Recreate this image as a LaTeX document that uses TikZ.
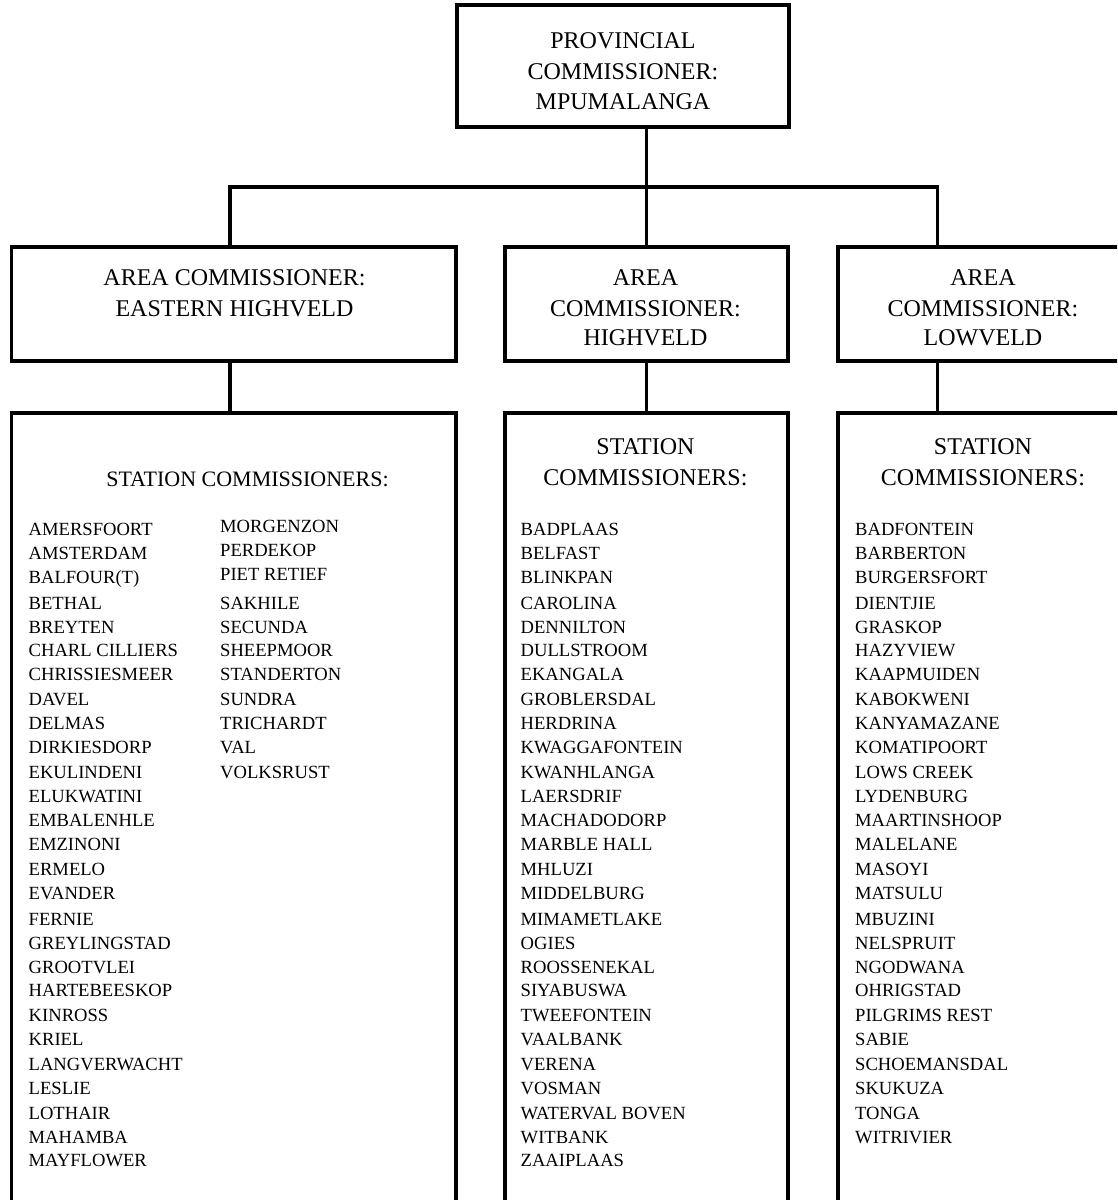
\documentclass[tikz,border=0pt]{standalone}
\usepackage{fontspec}
\setmainfont{Liberation Serif}
\begin{document}
\begin{tikzpicture}[x=1pt,y=-1pt,
  box/.style={draw=black, line width=3.5pt, rectangle, inner sep=0pt, fill=none},
  conn/.style={draw=black, line width=3.5pt, line join=miter},
  head/.style={anchor=base, inner sep=0pt, font=\fontsize{24}{30}\selectfont},
  item/.style={anchor=base west, inner sep=0pt, font=\fontsize{18.6}{24}\selectfont}]
\useasboundingbox (0,0) rectangle (1117,1200);
\clip (0,0) rectangle (1117,1200);
\fill[white] (0,0) rectangle (1117,1200);

% boxes
\node[box, minimum width=332pt, minimum height=122pt] (pc) at (623,66) {};
\node[box, minimum width=444.5pt, minimum height=114pt] (eha) at (233.75,304) {};
\node[box, minimum width=283pt, minimum height=114pt] (hva) at (646.5,304) {};
\node[box, minimum width=290pt, minimum height=114pt] (lva) at (983,304) {};
\node[box, minimum width=444.5pt, minimum height=827pt] (ehs) at (233.75,826.5) {};
\node[box, minimum width=283pt, minimum height=827pt] (hvs) at (646.5,826.5) {};
\node[box, minimum width=290pt, minimum height=827pt] (lvs) at (983,826.5) {};

% connectors
\coordinate (bus) at (646,187);
\draw[conn] (pc.south -| hva.north) -- (hva.north);
\draw[conn] ([xshift=-3.75pt]eha.north) |- (bus) -| ([xshift=-45.5pt]lva.north);
\draw[conn] ([xshift=-3.75pt]eha.south) -- ([xshift=-3.75pt]ehs.north);
\draw[conn] (hva.south) -- (hvs.north);
\draw[conn] ([xshift=-45.5pt]lva.south) -- ([xshift=-45.5pt]lvs.north);

% top box text
\node[head] (pc1) at (623,48.5) {PROVINCIAL};
\node[head] (pc2) at (623,79) {COMMISSIONER:};
\node[head] (pc3) at (623,109.5) {MPUMALANGA};

% area texts
\node[head] (eha1) at (234.5,285.5) {AREA COMMISSIONER:};
\node[head] (eha2) at (234.5,316) {EASTERN HIGHVELD};
\node[head] (hva1) at (645.5,285.5) {AREA};
\node[head] (hva2) at (645.5,316) {COMMISSIONER:};
\node[head] (hva3) at (645.5,345.5) {HIGHVELD};
\node[head] (lva1) at (983,285.5) {AREA};
\node[head] (lva2) at (983,316) {COMMISSIONER:};
\node[head] (lva3) at (983,345.5) {LOWVELD};

% station headings
\node[head, font=\fontsize{22}{30}\selectfont] (ehs1) at (247.5,486) {STATION COMMISSIONERS:};
\node[head] (hvs1) at (645.5,454) {STATION};
\node[head] (hvs2) at (645.5,485) {COMMISSIONERS:};
\node[head] (lvs1) at (983,454) {STATION};
\node[head] (lvs2) at (983,485) {COMMISSIONERS:};

% lists
\def\tops{{523,547,571,597,621,644,668,693,717,741,766,790,814,838,863,887,913,937,961,984,1009,1033,1058,1082,1107,1131,1154}}
\foreach \t [count=\i from 0] in {AMERSFOORT,AMSTERDAM,BALFOUR(T),BETHAL,BREYTEN,CHARL CILLIERS,CHRISSIESMEER,DAVEL,DELMAS,DIRKIESDORP,EKULINDENI,ELUKWATINI,EMBALENHLE,EMZINONI,ERMELO,EVANDER,FERNIE,GREYLINGSTAD,GROOTVLEI,HARTEBEESKOP,KINROSS,KRIEL,LANGVERWACHT,LESLIE,LOTHAIR,MAHAMBA,MAYFLOWER}{
  \pgfmathsetmacro\yy{\tops[\i]+12}
  \node[item] (ehl\i) at (28.5,\yy) {\t};
}
\foreach \t [count=\i from 0] in {MORGENZON,PERDEKOP,PIET RETIEF,SAKHILE,SECUNDA,SHEEPMOOR,STANDERTON,SUNDRA,TRICHARDT,VAL,VOLKSRUST}{
  \pgfmathsetmacro\yy{\tops[\i]+12-(\i<3?2.5:0)}
  \node[item] (ehr\i) at (220,\yy) {\t};
}
\foreach \t [count=\i from 0] in {BADPLAAS,BELFAST,BLINKPAN,CAROLINA,DENNILTON,DULLSTROOM,EKANGALA,GROBLERSDAL,HERDRINA,KWAGGAFONTEIN,KWANHLANGA,LAERSDRIF,MACHADODORP,MARBLE HALL,MHLUZI,MIDDELBURG,MIMAMETLAKE,OGIES,ROOSSENEKAL,SIYABUSWA,TWEEFONTEIN,VAALBANK,VERENA,VOSMAN,WATERVAL BOVEN,WITBANK,ZAAIPLAAS}{
  \pgfmathsetmacro\yy{\tops[\i]+12}
  \node[item] (hvl\i) at (520.5,\yy) {\t};
}
\foreach \t [count=\i from 0] in {BADFONTEIN,BARBERTON,BURGERSFORT,DIENTJIE,GRASKOP,HAZYVIEW,KAAPMUIDEN,KABOKWENI,KANYAMAZANE,KOMATIPOORT,LOWS CREEK,LYDENBURG,MAARTINSHOOP,MALELANE,MASOYI,MATSULU,MBUZINI,NELSPRUIT,NGODWANA,OHRIGSTAD,PILGRIMS REST,SABIE,SCHOEMANSDAL,SKUKUZA,TONGA,WITRIVIER}{
  \pgfmathsetmacro\yy{\tops[\i]+12}
  \node[item] (lvl\i) at (855,\yy) {\t};
}
\end{tikzpicture}
\end{document}
